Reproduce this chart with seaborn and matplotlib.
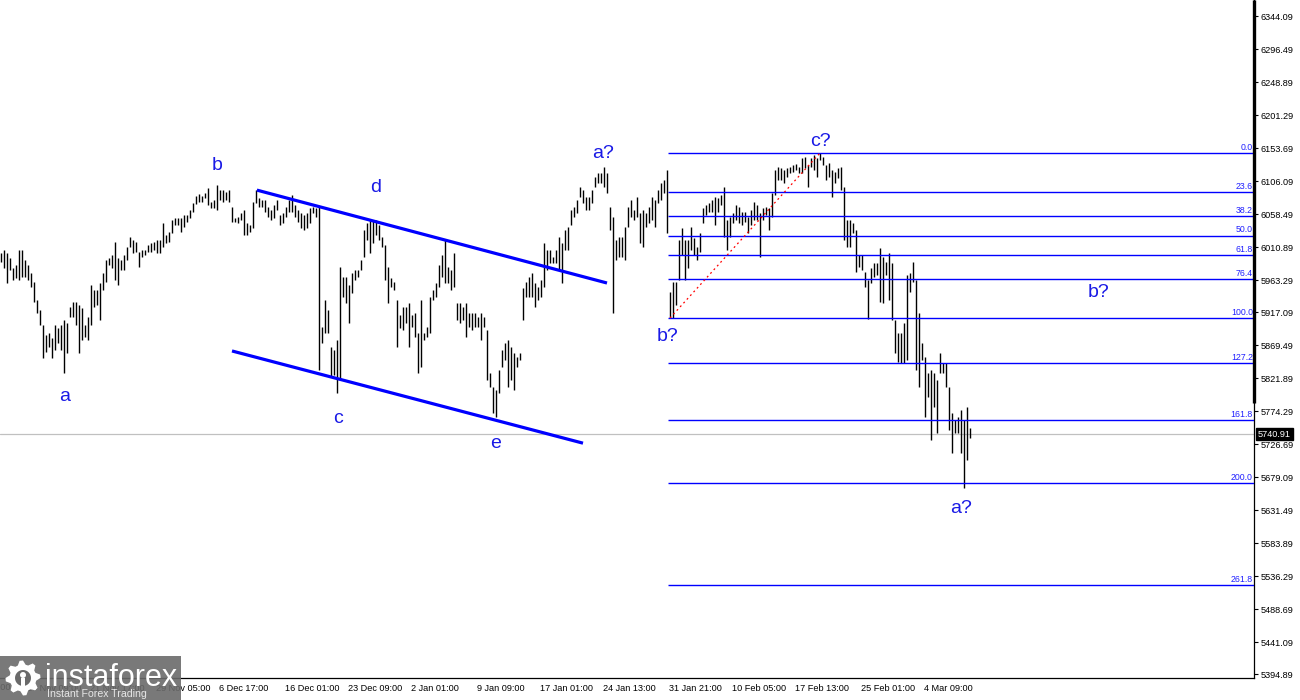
import numpy as np
import matplotlib
matplotlib.use("Agg")
import matplotlib.pyplot as plt
import seaborn as sns
from matplotlib.patches import Rectangle, Polygon
from matplotlib.transforms import blended_transform_factory, ScaledTranslation

sns.set_theme(style="white")
plt.rcParams['font.family'] = ['Liberation Sans', 'DejaVu Sans']

# ---------------- data ----------------
high_nov = [6002, 6007, 6002, 5995, 5981, 5985, 6007, 6007, 5992, 5985, 5973, 5960, 5934, 5920, 5898,
            5884, 5887, 5880, 5898, 5894, 5898, 5906, 5901, 5924, 5932, 5932, 5927, 5923, 5898, 5910,
            5956, 5949, 5949, 5959, 5973, 5992, 5995, 5999, 6018, 5995]
low_nov = [5989, 5981, 5959, 5978, 5963, 5966, 5963, 5968, 5968, 5963, 5953, 5932, 5916, 5898, 5851,
           5859, 5867, 5851, 5862, 5872, 5862, 5829, 5858, 5910, 5910, 5898, 5858, 5877, 5881, 5877,
           5898, 5924, 5927, 5906, 5949, 5960, 5985, 5981, 5963, 5956]

high_dec1 = [5992, 5999, 6011, 6025, 6021, 6018, 6004, 6007, 6007, 6014, 6017, 6018, 6021, 6021, 6046,
             6028, 6033, 6050, 6053, 6053, 6053, 6057, 6057, 6064, 6074, 6085, 6087, 6085, 6089, 6096,
             6076, 6079, 6100, 6093, 6093, 6090, 6093, 6069, 6053, 6054, 6060, 6064, 6046, 6043, 6076, 6093]
low_dec1 = [5978, 5978, 5992, 6011, 6002, 6004, 5982, 5996, 5999, 6004, 6004, 6007, 6002, 6002, 6011,
            6017, 6018, 6031, 6043, 6043, 6033, 6040, 6047, 6053, 6061, 6073, 6076, 6076, 6082, 6072,
            6067, 6067, 6064, 6079, 6076, 6079, 6076, 6047, 6047, 6046, 6050, 6028, 6028, 6033, 6038, 6074]

high_dec2 = [6082, 6079, 6079, 6069, 6064, 6072, 6079, 6057, 6060, 6069, 6079, 6086, 6072, 6064, 6060,
             6057, 6060, 6067, 6069, 6067, 6069, 5896, 5934, 5920, 5867, 5862, 5877, 5982, 5968, 5968,
             5956, 5973, 5978, 5978, 5992, 6035, 6046, 6050]
low_dec2 = [6069, 6069, 6061, 6054, 6050, 6053, 6064, 6043, 6046, 6054, 6061, 6061, 6054, 6047, 6038,
            6035, 6038, 6046, 6060, 6054, 5834, 5872, 5887, 5887, 5823, 5826, 5800, 5819, 5939, 5930,
            5901, 5945, 5963, 5968, 5978, 5996, 6021, 6002]

high_jan1 = [6050, 6050, 6043, 6025, 6014, 5982, 5966, 5960, 5934, 5913, 5924, 5924, 5930, 5913, 5916,
             5887, 5934, 5887, 5896, 5939, 5949, 5959, 5985, 5999, 6021, 5982, 5978, 6002, 5930, 5930,
             5924, 5930, 5916, 5916, 5916, 5910, 5916, 5910, 5891, 5829, 5809, 5805, 5834, 5862, 5872,
             5877, 5867, 5858, 5852, 5858]
low_jan1 = [6017, 6028, 6021, 6011, 5963, 5930, 5953, 5949, 5867, 5894, 5891, 5901, 5867, 5896, 5881,
            5829, 5838, 5877, 5881, 5887, 5934, 5939, 5953, 5968, 5959, 5959, 5949, 5953, 5906, 5901,
            5906, 5881, 5896, 5891, 5896, 5896, 5877, 5896, 5819, 5809, 5772, 5766, 5800, 5838, 5848,
            5809, 5819, 5805, 5838, 5848]

high_jan2 = [5952, 5960, 5968, 5973, 5959, 5953, 5963, 6017, 6007, 6007, 5996, 6007, 6025, 6017, 6035,
             6040, 6064, 6069, 6079, 6097, 6093, 6083, 6083, 6093, 6112, 6118, 6118, 6126, 6118, 6069,
             6054, 6021, 6025, 6025, 6040, 6069, 6079, 6064, 6083, 6060, 6064, 6060, 6069, 6083, 6079,
             6093, 6103, 6108, 6122]
low_jan2 = [5906, 5939, 5939, 5939, 5924, 5934, 5939, 5953, 5978, 5988, 5988, 5988, 5978, 5959, 6007,
            6007, 6043, 6054, 6060, 6083, 6074, 6064, 6064, 6074, 6097, 6103, 6103, 6097, 6089, 6035,
            5916, 5992, 5996, 5996, 5992, 6040, 6054, 6050, 6054, 6017, 6011, 6040, 6046, 6050, 6040,
            6074, 6079, 6089, 6031]

high_feb = [5946, 5960, 5960, 6021, 6038, 6021, 6021, 6040, 6024, 6011, 6031, 6067, 6072, 6074, 6079,
            6083, 6082, 6086, 6097, 6050, 6054, 6060, 6072, 6069, 6061, 6061, 6054, 6064, 6076, 6072,
            6060, 6067, 6069, 6067, 6089, 6122, 6126, 6125, 6122, 6125, 6126, 6129, 6131, 6126, 6139,
            6141, 6129, 6139, 6144, 6139, 6147, 6141, 6129, 6132, 6122, 6119, 6125, 6126, 6097, 6050,
            6050, 6046, 6035]
low_feb = [5908, 5909, 5927, 5963, 5999, 5963, 5981, 6007, 5999, 5992, 6004, 6046, 6057, 6061, 6061,
           6043, 6061, 6072, 6025, 6007, 6025, 6046, 6050, 6046, 6043, 6047, 6031, 6043, 6050, 6050,
           5996, 6050, 6057, 6035, 6054, 6086, 6108, 6108, 6103, 6112, 6118, 6119, 6122, 6118, 6118,
           6125, 6097, 6126, 6122, 6112, 6136, 6129, 6108, 6112, 6083, 6103, 6110, 6093, 6021, 6011,
           6011, 6031, 5975]

high_mar = [5999, 5999, 5975, 5963, 5981, 5988, 5988, 6010, 5997, 5989, 6002, 5988, 5906, 5887, 5887,
            5901, 5971, 5973, 5989, 5963, 5916, 5872, 5852, 5829, 5834, 5829, 5819, 5858, 5844, 5844,
            5809, 5771, 5761, 5766, 5776, 5761, 5780, 5750]
low_mar = [5982, 5978, 5953, 5907, 5959, 5968, 5971, 5932, 5930, 5971, 5934, 5906, 5858, 5845, 5844,
           5844, 5848, 5946, 5960, 5834, 5809, 5848, 5766, 5795, 5733, 5780, 5743, 5829, 5829, 5809,
           5747, 5714, 5743, 5743, 5714, 5663, 5704, 5736]

last_price = 5740.91

ytick_values = [6344.09, 6296.49, 6248.89, 6201.29, 6153.69, 6106.09, 6058.49, 6010.89, 5963.29,
                5917.09, 5869.49, 5821.89, 5774.29, 5726.69, 5679.09, 5631.49, 5583.89, 5536.29,
                5488.69, 5441.09, 5394.89]
ytick_labels = [f"{v:.2f}" for v in ytick_values]

xtick_bars = [-14, 8, 29, 51, 72, 94, 115, 136, 158, 179, 200, 222, 243, 264, 286, 307]
xtick_labels = ["7 Nov 01:00", "14 Nov 09:00", "21 Nov 17:00", "29 Nov 05:00", "6 Dec 17:00",
                "16 Dec 01:00", "23 Dec 09:00", "2 Jan 01:00", "9 Jan 09:00", "17 Jan 01:00",
                "24 Jan 13:00", "31 Jan 21:00", "10 Feb 05:00", "17 Feb 13:00", "25 Feb 01:00",
                "4 Mar 09:00"]

# Fibonacci tool (b? low -> c? high)
fib_high = 6146.5
fib_low = 5908.5
fib_start_bar = 222.3
fib_ratios = [0.0, 23.6, 38.2, 50.0, 61.8, 76.4, 100.0, 127.2, 161.8, 200.0, 261.8]
fib_anchor_bars = [223, 273]

# channel trend lines
upper_line_bars = [85.3, 202.0]
upper_line_prices = [6093.0, 5959.0]
lower_line_bars = [77.0, 194.0]
lower_line_prices = [5861.0, 5728.0]

wave_texts = ["a", "b", "c", "d", "e", "a?", "b?", "c?", "b?", "a?"]
wave_bars = [21.3, 72.0, 112.3, 125.0, 164.7, 200.7, 222.3, 273.3, 366.0, 320.0]
wave_prices = [5796, 6129, 5764, 6097, 5727, 6146, 5882, 6163, 5946, 5634]

# ---------------- figure ----------------
high = np.array(high_nov + high_dec1 + high_dec2 + high_jan1 + high_jan2 + high_feb + high_mar, float)
low = np.array(low_nov + low_dec1 + low_dec2 + low_jan1 + low_jan2 + low_feb + low_mar, float)
bars = np.arange(len(high))

W, H = 1300, 700
fig = plt.figure(figsize=(W / 100, H / 100), dpi=100)
fig.patch.set_facecolor("white")
axis_x_px, axis_y_px = 1254, 678
ax = fig.add_axes([0, (H - axis_y_px) / H, axis_x_px / W, axis_y_px / H])
ax.set_facecolor("white")

ax.vlines(bars, low, high, color="black", linewidth=1.0, zorder=2)

ax.set_xlim(-1 / 3, (axis_x_px - 1) / 3)
ax.set_ylim(5389.3, 6367.2)

# fibonacci
rng = fib_high - fib_low
fib_levels = [fib_high - r / 100 * rng for r in fib_ratios]
xmax = ax.get_xlim()[1]
ax.hlines(fib_levels, fib_start_bar, xmax, color="#0000ff", linewidth=1.0, zorder=3)
for r, lv in zip(fib_ratios, fib_levels):
    ax.text(xmax - 0.4, lv + 1.5, f"{r:.1f}", ha="right", va="bottom", fontsize=6.3,
            color="#2020ff", zorder=4)
ax.plot(fib_anchor_bars, [fib_low, fib_high], color="red", linewidth=0.9,
        linestyle=(0, (1.5, 2.5)), zorder=4)

# channel
ax.plot(upper_line_bars, upper_line_prices, color="#0000ff", linewidth=2.3, zorder=3,
        solid_capstyle="butt")
ax.plot(lower_line_bars, lower_line_prices, color="#0000ff", linewidth=2.3, zorder=3,
        solid_capstyle="butt")

# current price line
ax.axhline(last_price, color="#c0c0c0", linewidth=0.9, zorder=1)

# wave labels
for t, xb, yp in zip(wave_texts, wave_bars, wave_prices):
    ax.text(xb, yp, t, ha="center", va="center", fontsize=14, color="#1a1ae6", zorder=5)

# spines / ticks
for s in ["top", "left"]:
    ax.spines[s].set_visible(False)
for s in ["right", "bottom"]:
    ax.spines[s].set_color("black")
    ax.spines[s].set_linewidth(0.9)
split = 1 - 403 / axis_y_px
ax.plot([1, 1], [split, 1], transform=ax.transAxes, color="black", lw=2.4,
        clip_on=False, solid_capstyle="butt", zorder=6)

ax.yaxis.tick_right()
ax.set_yticks(ytick_values)
ax.set_yticklabels(ytick_labels)
ax.tick_params(axis="y", direction="out", length=3, width=0.8, colors="black", labelsize=6.6, pad=2)
ax.grid(False)

ax.set_xticks(xtick_bars[1:])
ax.set_xticklabels(xtick_labels[1:], ha="left")
ax.tick_params(axis="x", direction="out", length=3, width=0.8, colors="black", labelsize=6.6, pad=1.5)
offset = ScaledTranslation(2 / 100, 0, fig.dpi_scale_trans)
for lab in ax.get_xticklabels():
    lab.set_transform(lab.get_transform() + offset)
# first, partially visible label
ax.text(xtick_bars[0] + 0.7, -0.008, xtick_labels[0],
        transform=blended_transform_factory(ax.transData, ax.transAxes),
        ha="left", va="top", fontsize=6.6, color="black", clip_on=False)

# price tag
ax.text(1 + 4 / axis_x_px, last_price, f"{last_price:.2f}",
        transform=blended_transform_factory(ax.transAxes, ax.transData),
        ha="left", va="center", fontsize=6.6, color="white", zorder=7, clip_on=False,
        bbox=dict(boxstyle="square,pad=0.18", fc="black", ec="black"))

# logo
fig.patches.append(Rectangle((0, 0), 181 / W, 44 / H, transform=fig.transFigure,
                             facecolor="#6a6a6a", alpha=0.9, edgecolor="none", zorder=10))
cx, cy = 23, 22
ang = np.linspace(0, 2 * np.pi, 33)[:-1]
rad = np.where((np.arange(32) // 2) % 2 == 0, 17.5, 13.5)
gear = np.column_stack([(cx + rad * np.cos(ang)) / W, (cy + rad * np.sin(ang)) / H])
fig.patches.append(Polygon(gear, closed=True, transform=fig.transFigure, facecolor="white",
                           edgecolor="none", zorder=11))
fig.patches.append(Polygon(np.column_stack([(cx + 8 * np.cos(ang)) / W, (cy + 8 * np.sin(ang)) / H]),
                           closed=True, transform=fig.transFigure, facecolor="#6a6a6a",
                           edgecolor="none", zorder=12))
fig.patches.append(Polygon(np.column_stack([(cx + 3 * np.cos(ang)) / W, (cy + 3 + 3 * np.sin(ang)) / H]),
                           closed=True, transform=fig.transFigure, facecolor="white",
                           edgecolor="none", zorder=13))
fig.patches.append(Rectangle(((cx - 2) / W, (cy - 12) / H), 4 / W, 12 / H, transform=fig.transFigure,
                             facecolor="white", edgecolor="none", zorder=13))
fig.text(45 / W, 14 / H, "instaforex", fontsize=22, color="white", ha="left", va="baseline", zorder=14)
fig.text(47 / W, 3 / H, "Instant Forex Trading", fontsize=7.6, color="#e6e6e6", ha="left",
         va="baseline", zorder=14)

fig.savefig("out.png", dpi=100, facecolor="white")
